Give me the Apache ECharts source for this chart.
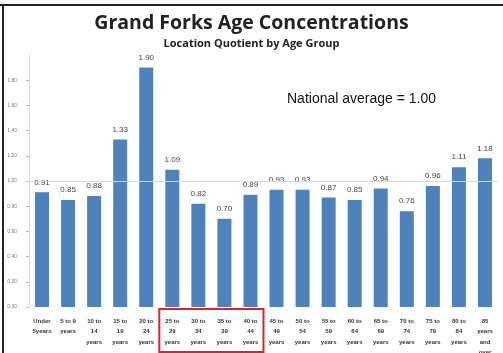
<!DOCTYPE html>
<html><head><meta charset="utf-8">
<script src="https://cdn.jsdelivr.net/npm/echarts@6/dist/echarts.min.js"></script>
<style>html,body{margin:0;padding:0;background:#fff}#c{width:503px;height:353px}</style>
</head><body><div id="c"></div>
<script>
var categories = ["Under\n5years","5 to 9\nyears","10 to\n14\nyears","15 to\n19\nyears","20 to\n24\nyears","25 to\n29\nyears","30 to\n34\nyears","35 to\n39\nyears","40 to\n44\nyears","45 to\n49\nyears","50 to\n54\nyears","55 to\n59\nyears","60 to\n64\nyears","65 to\n69\nyears","70 to\n74\nyears","75 to\n79\nyears","80 to\n84\nyears","85\nyears\nand\nover"];
var values = [0.91,0.85,0.88,1.33,1.90,1.09,0.82,0.70,0.89,0.93,0.93,0.87,0.85,0.94,0.76,0.96,1.11,1.18];
var highlighted = ["25 to\n29\nyears","40 to\n44\nyears"];
var nationalAverage = 1.00;

var chart = echarts.init(document.getElementById('c'));
chart.setOption({
  animation:false,
  title:{text:"Grand Forks Age Concentrations",subtext:"Location Quotient by Age Group",left:'center',top:8,itemGap:5,
    textStyle:{fontFamily:"Open Sans",fontWeight:'bold',fontSize:19.5,color:'#222'},
    subtextStyle:{fontFamily:"Open Sans",fontWeight:'bold',fontSize:11,color:'#222'}},
  grid:{left:29,right:5,top:55,bottom:46,containLabel:false,outerBoundsMode:'none'},
  xAxis:{type:'category',data:categories,
    axisLine:{show:false},axisTick:{show:false},
    axisLabel:{interval:0,fontSize:6,fontWeight:'bold',color:'#333',lineHeight:10.5,margin:9,verticalAlign:'top'}},
  yAxis:{type:'value',min:0,max:2,interval:0.2,
    axisLine:{show:true,lineStyle:{color:'#ddd'}},
    axisTick:{show:true,length:3,lineStyle:{color:'#bbb'}},
    splitLine:{show:false},
    axisLabel:{fontSize:5,color:'#777',margin:12,showMaxLabel:false,formatter:function(v){return v.toFixed(2);}}},
  series:[{type:'bar',data:values,barWidth:14,itemStyle:{color:'#4f81bd'},
    label:{show:true,position:'top',distance:6,fontSize:8,color:'#444',formatter:function(p){return p.value.toFixed(2);}},
    markLine:{silent:true,symbol:'none',label:{show:false},lineStyle:{color:'#d8d8d8',type:'solid',width:1},data:[{yAxis:nationalAverage}]}
  }]
});
function place(){
  var y0 = chart.convertToPixel({yAxisIndex:0},0);
  var xa = chart.convertToPixel({xAxisIndex:0},highlighted[0]);
  var xb = chart.convertToPixel({xAxisIndex:0},highlighted[1]);
  var half = 13;
  chart.setOption({graphic:[
    {type:'line',shape:{x1:0,y1:5,x2:503,y2:5},style:{stroke:'#222',lineWidth:2}},
    {type:'line',shape:{x1:3,y1:5,x2:3,y2:353},style:{stroke:'#222',lineWidth:2}},
    {type:'text',left:287,top:92,style:{text:"National average = "+nationalAverage.toFixed(2),font:'14px "Liberation Sans"',fill:'#111'}},
    {type:'rect',shape:{x:xa-half,y:y0+2,width:(xb-xa)+2*half,height:352-(y0+2)},style:{fill:'none',stroke:'#e02030',lineWidth:2}}
  ]});
}
place();
</script></body></html>
